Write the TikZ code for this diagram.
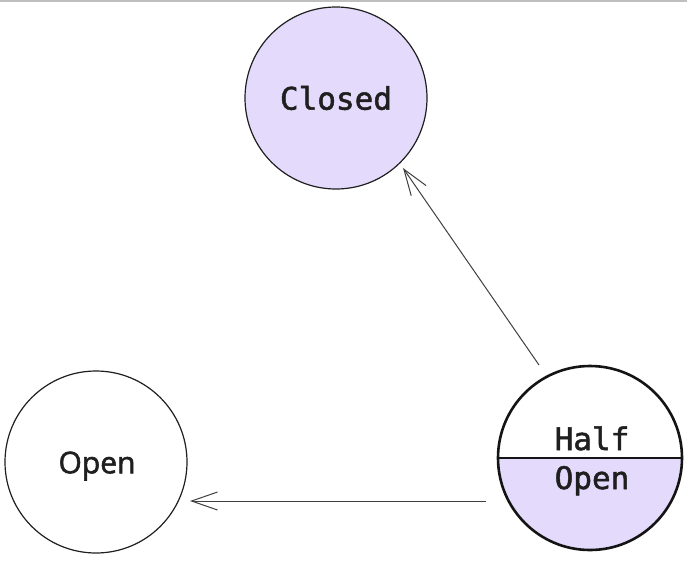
\documentclass[tikz,border=0pt]{standalone}
\usepackage{fontspec}
\newfontfamily\monofont[FakeBold=1.6]{DejaVu Sans Mono}
\newfontfamily\sansfont[FakeBold=1.8]{Open Sans}
\usetikzlibrary{arrows.meta,calc}
\definecolor{lav}{HTML}{E4DAFC}
\begin{document}
\begin{tikzpicture}[x=1pt,y=-1pt,
  state/.style={circle,minimum size=182pt,inner sep=0pt,draw=black!88,line width=1.2pt},
  arr/.style={draw=black!75,line width=1pt,-{Straight Barb[length=26pt,width=18pt,line width=1pt]}},
  mono/.style={font=\monofont\fontsize{31}{31}\selectfont,text=black!88},
  sans/.style={font=\sansfont\fontsize{30}{30}\selectfont,text=black!88}]
\useasboundingbox (0,0) rectangle (687,560);
\fill[white] (0,0) rectangle (687,560);
\draw[black!25,line width=1.5pt] (0,0.75) -- (687,0.75);
% Closed
\node[state,fill=lav,mono] (closed) at (336,98) {Closed};
% Open
\node[state] (open) at (96,462) {};
\node[sans] (opentext) at ($(open.center)+(1,4)$) {Open};
% Half Open
\node[circle,minimum size=184pt,inner sep=0pt] (half) at (590,458) {};
\begin{scope}
  \clip (half.center) circle (92);
  \fill[lav] ($(half.center)+(-100,0)$) rectangle ($(half.center)+(100,100)$);
\end{scope}
\draw[black!92,line width=2.6pt] (half.center) circle (92);
\draw[black!92,line width=2.8pt] (half.west) -- (half.east);
\node[mono,anchor=base] (halftxt) at ($(half.center)+(2,-8)$) {Half};
\node[mono,anchor=base] (opentxt) at ($(half.center)+(2,31)$) {Open};
% arrows
\coordinate (s1) at ($(half.center)+(-51,-93)$);
\coordinate (e1) at ($(closed.center)+(67,70)$);
\draw[arr] (s1) -- (e1);
\coordinate (s2) at ($(half.center)+(-104,43)$);
\coordinate (e2) at ($(open.center)+(94,39)$);
\draw[arr] (s2) -- (e2);
\end{tikzpicture}
\end{document}
